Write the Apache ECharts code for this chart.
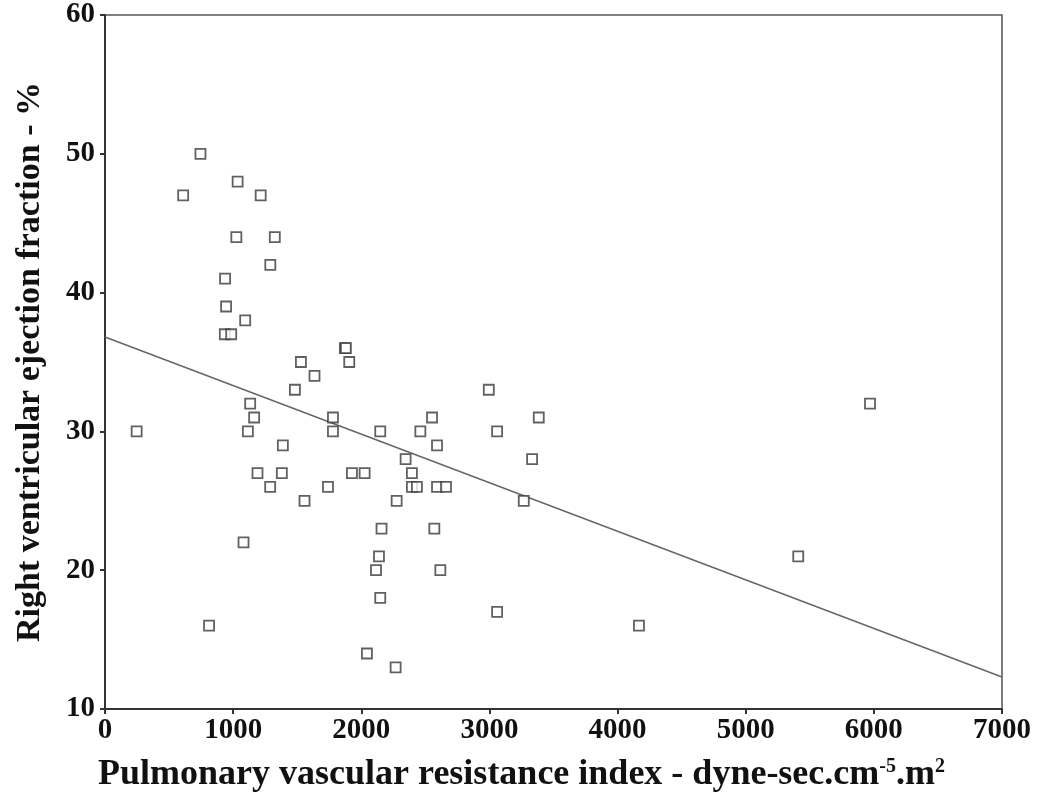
<!DOCTYPE html>
<html>
<head>
<meta charset="utf-8">
<script src="https://cdn.jsdelivr.net/npm/echarts@6/dist/echarts.min.js"></script>
<style>html,body{margin:0;padding:0;background:#fff}#c{width:1050px;height:804px}</style>
</head>
<body>
<div id="c"></div>
<script>
// PVRI (dyne-sec.cm-5.m2) values
const pvri = [745, 610, 1035, 1215, 1025, 1325, 1290, 937, 945, 1094, 935, 985,
  1872, 1880, 1906, 1529, 1635, 1482, 1133, 1164, 1115, 247, 1779, 1779, 2148,
  1388, 1190, 1380, 1289, 1740, 1927, 2026, 1557, 2276, 1081, 2158, 2138, 2115,
  2148, 812, 2044, 2268, 2552, 2461, 2591, 2346, 2395, 2395, 2434, 2591, 2661,
  2570, 2617, 2995, 3385, 3060, 3333, 3268, 3060, 4167, 5410, 5970];
// RVEF (%) values
const rvef = [50, 47, 48, 47, 44, 44, 42, 41, 39, 38, 37, 37,
  36, 36, 35, 35, 34, 33, 32, 31, 30, 30, 31, 30, 30,
  29, 27, 27, 26, 26, 27, 27, 25, 25, 22, 23, 21, 20,
  18, 16, 14, 13, 31, 30, 29, 28, 27, 26, 26, 26, 26,
  23, 20, 33, 31, 30, 28, 25, 17, 16, 21, 32];
// Regression line endpoints
const fitX = [0, 7000];
const fitY = [36.8, 12.3];
// Tick labels
const xTicks = [0, 1000, 2000, 3000, 4000, 5000, 6000, 7000];
const yTicks = [10, 20, 30, 40, 50, 60];

const points = pvri.map((x, i) => [x, rvef[i]]);
const fitLine = fitX.map((x, i) => [x, fitY[i]]);

const font = '"Liberation Serif", "DejaVu Serif", serif';
const chart = echarts.init(document.getElementById('c'), null, {renderer: 'canvas'});
chart.setOption({
  animation: false,
  backgroundColor: '#fff',
  grid: {left: 105, right: 48, top: 15, bottom: 95, show: true, borderColor: '#555', borderWidth: 1.5, backgroundColor: 'transparent'},
  xAxis: {
    type: 'value', min: xTicks[0], max: xTicks[xTicks.length - 1], interval: 1000,
    splitLine: {show: false},
    axisLine: {show: true, onZero: false, lineStyle: {color: '#333', width: 2}},
    axisTick: {show: true, length: 5, lineStyle: {color: '#333', width: 2}},
    axisLabel: {color: '#111', fontFamily: font, fontWeight: 'bold', fontSize: 29, margin: 7,
      formatter: v => String(v)},
    name: 'Pulmonary vascular resistance index - dyne-sec.cm{sup|-5}.m{sup|2}',
    nameLocation: 'middle', nameGap: 48,
    nameTextStyle: {color: '#111', fontFamily: font, fontWeight: 'bold', fontSize: 36, padding: [0, 64, 0, 0],
      rich: {sup: {fontFamily: font, fontWeight: 'bold', fontSize: 20, color: '#111', verticalAlign: 'top', padding: [0, 0, 16, 0]}}}
  },
  yAxis: {
    type: 'value', min: yTicks[0], max: yTicks[yTicks.length - 1], interval: 10,
    splitLine: {show: false},
    axisLine: {show: true, onZero: false, lineStyle: {color: '#333', width: 2}},
    axisTick: {show: true, length: 5, lineStyle: {color: '#333', width: 2}},
    axisLabel: {color: '#111', fontFamily: font, fontWeight: 'bold', fontSize: 29, margin: 10,
      formatter: v => String(v)},
    name: 'Right ventricular ejection fraction - %',
    nameLocation: 'middle', nameGap: 58,
    nameTextStyle: {color: '#111', fontFamily: font, fontWeight: 'bold', fontSize: 34}
  },
  series: [
    {
      type: 'line', data: fitLine, symbol: 'none', silent: true,
      lineStyle: {color: '#666', width: 1.5}, z: 1
    },
    {
      type: 'scatter', data: points, symbol: 'rect', symbolSize: 10,
      itemStyle: {color: '#fff', borderColor: '#3a3a3a', borderWidth: 1.8}, z: 2
    }
  ]
});
</script>
</body>
</html>
